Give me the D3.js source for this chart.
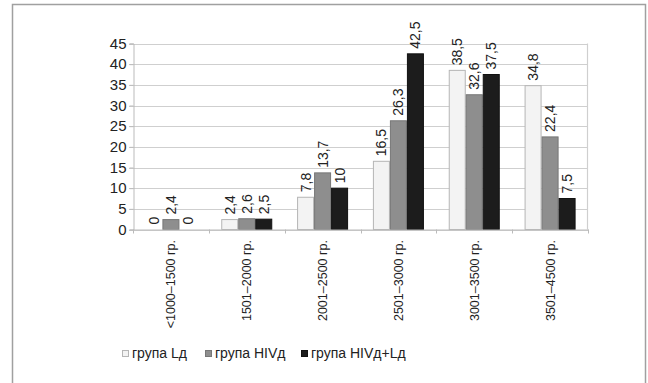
<!DOCTYPE html>
<html><head><meta charset="utf-8">
<script src="https://cdn.jsdelivr.net/npm/d3@7"></script>
<style>html,body{margin:0;padding:0;background:#fff;}svg{display:block;}</style>
</head><body>
<svg id="c" width="648" height="383"></svg>
<script>
const categories = ["<1000–1500 гр.", "1501–2000 гр.", "2001–2500 гр.", "2501–3000 гр.", "3001–3500 гр.", "3501–4500 гр."];
const seriesNames = ["група Lд", "група HIVд", "група HIVд+Lд"];
const seriesLd = [0, 2.4, 7.8, 16.5, 38.5, 34.8];
const seriesHIV = [2.4, 2.6, 13.7, 26.3, 32.6, 22.4];
const seriesHIVLd = [0, 2.5, 10, 42.5, 37.5, 7.5];
const labelsLd = ["0", "2,4", "7,8", "16,5", "38,5", "34,8"];
const labelsHIV = ["2,4", "2,6", "13,7", "26,3", "32,6", "22,4"];
const labelsHIVLd = ["0", "2,5", "10", "42,5", "37,5", "7,5"];
const yTicks = [0, 5, 10, 15, 20, 25, 30, 35, 40, 45];

const seriesVals = [seriesLd, seriesHIV, seriesHIVLd];
const seriesLabels = [labelsLd, labelsHIV, labelsHIVLd];
const fills = ["#f3f3f3", "#8e8e8e", "#1c1c1c"];
const strokes = ["#b5b5b5", "#777", "#111"];
const textColor = "#222";
const font = "'Liberation Sans', Arial, sans-serif";

const svg = d3.select("#c");
// outer frame
svg.append("rect").attr("x", 12.5).attr("y", 4.5).attr("width", 633).attr("height", 400)
  .attr("fill", "#fff").attr("stroke", "#a0a0a0").attr("stroke-width", 1.5);

const x0 = d3.scaleBand().domain(categories).range([133, 588]).paddingInner(0).paddingOuter(0);
const x1 = d3.scaleBand().domain(d3.range(3)).range([0, x0.bandwidth()]).paddingInner(0).paddingOuter(0.73);
const y = d3.scaleLinear().domain([0, 45]).range([229.5, 43.5]);

// gridlines
svg.append("g").selectAll("line").data(yTicks).join("line")
  .attr("x1", 129).attr("x2", 588)
  .attr("y1", d => Math.round(y(d)) + 0.5).attr("y2", d => Math.round(y(d)) + 0.5)
  .attr("stroke", "#cfcfcf").attr("stroke-width", 1.2);
// right border of plot
svg.append("line").attr("x1", 587.5).attr("x2", 587.5).attr("y1", y(45)).attr("y2", y(0))
  .attr("stroke", "#cfcfcf").attr("stroke-width", 1.2);

// y axis
const yAxis = d3.axisLeft(y).tickValues(yTicks).tickSize(4).tickPadding(3);
const gy = svg.append("g").attr("transform", "translate(133.5,0)").call(yAxis);
gy.select(".domain").attr("stroke", "#bbb");
gy.selectAll(".tick line").attr("stroke", "#bbb");
gy.selectAll("text").attr("font-family", font).attr("font-size", 15).attr("fill", textColor);

// bars
const groups = svg.append("g").selectAll("g").data(categories).join("g")
  .attr("transform", d => `translate(${x0(d)},0)`);
groups.each(function(cat, ci) {
  const g = d3.select(this);
  for (let s = 0; s < 3; s++) {
    const v = seriesVals[s][ci];
    if (v > 0) {
      g.append("rect").attr("x", x1(s) + 0.5).attr("width", x1.bandwidth() - 1)
        .attr("y", y(v)).attr("height", y(0) - y(v))
        .attr("fill", fills[s]).attr("stroke", strokes[s]).attr("stroke-width", 1);
    }
    const cx = x1(s) + x1.bandwidth() / 2;
    const ty = y(v) - 5;
    g.append("text").attr("transform", `translate(${cx + 5},${ty}) rotate(-90)`)
      .attr("text-anchor", "start").attr("font-family", font).attr("font-size", 14)
      .attr("fill", textColor).text(seriesLabels[s][ci]);
  }
});

// x axis
const xAxis = d3.axisBottom(x0).tickSize(0).tickFormat("");
const gx = svg.append("g").attr("transform", `translate(0,${y(0)})`).call(xAxis);
gx.select(".domain").attr("stroke", "#bbb").attr("stroke-width", 1.2);
// category boundary ticks
const bounds = categories.map(c => x0(c)).concat([x0.range()[1]]);
svg.append("g").selectAll("line").data(bounds).join("line")
  .attr("x1", d => Math.round(d) + 0.5).attr("x2", d => Math.round(d) + 0.5)
  .attr("y1", y(0)).attr("y2", y(0) + 4).attr("stroke", "#bbb");
// x labels
svg.append("g").selectAll("text").data(categories).join("text")
  .attr("transform", d => `translate(${x0(d) + x0.bandwidth() / 2 + 4.5},240) rotate(-90)`)
  .attr("text-anchor", "end").attr("font-family", font).attr("font-size", 12.5)
  .attr("fill", textColor).text(d => d);

// legend
const legendX = [122, 205, 301];
const lg = svg.append("g").selectAll("g").data(seriesNames).join("g")
  .attr("transform", (d, i) => `translate(${legendX[i]},350)`);
lg.append("rect").attr("x", 0.5).attr("y", 0.5).attr("width", 6).attr("height", 6)
  .attr("fill", (d, i) => fills[i]).attr("stroke", (d, i) => strokes[i]);
lg.append("text").attr("x", 10).attr("y", 8).attr("font-family", font).attr("font-size", 14)
  .attr("fill", textColor).text(d => d);
</script>
</body></html>
